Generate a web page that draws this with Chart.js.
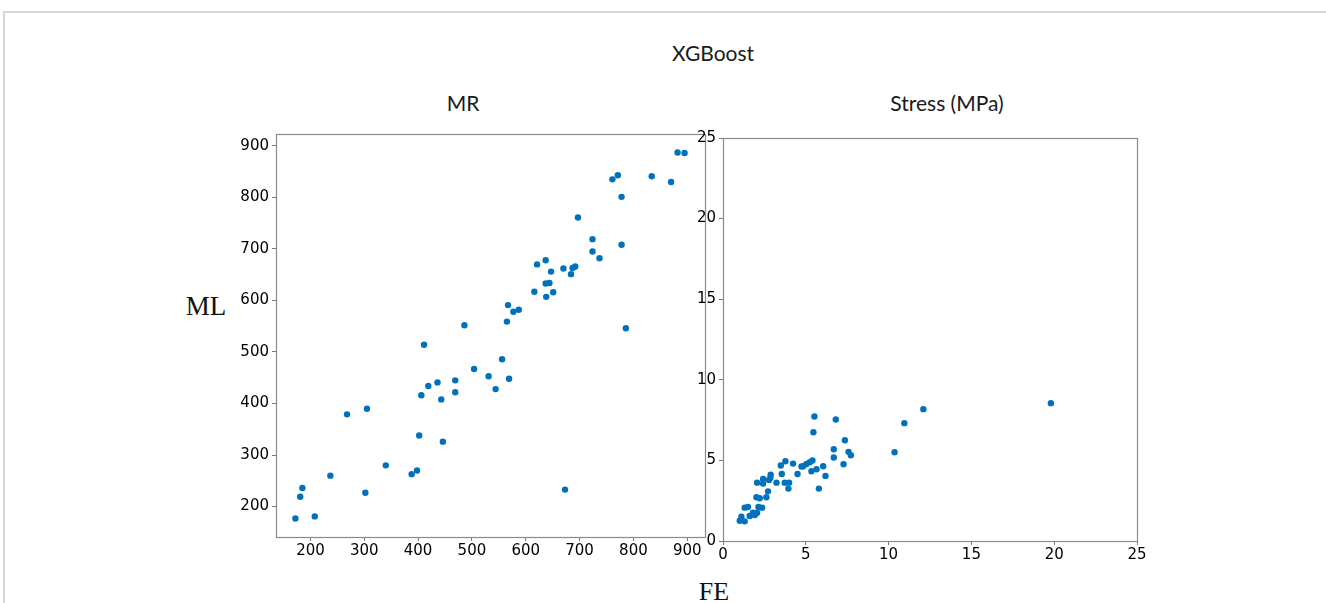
<!DOCTYPE html>
<html>
<head>
<meta charset="utf-8">
<script src="https://cdn.jsdelivr.net/npm/chart.js@4/dist/chart.umd.min.js"></script>
<style>
  html, body { margin: 0; padding: 0; background: #fff; }
  body { width: 1326px; height: 603px; position: relative; overflow: hidden; }
  .box { position: absolute; }
  .txt { position: absolute; white-space: nowrap; transform: translate(-50%, -50%); color: #1a1a1a; }
  .sans { font-family: Lato, "Open Sans", sans-serif; }
  .serif { font-family: "Liberation Serif", "DejaVu Serif", serif; color: #111; }
  #frameTop { position: absolute; left: 4px; top: 11px; width: 1322px; height: 2px; background: #d6d6d6; }
  #frameLeft { position: absolute; left: 3px; top: 11px; width: 2px; height: 592px; background: #d6d6d6; }
</style>
</head>
<body>
<div id="frameTop"></div>
<div id="frameLeft"></div>

<div class="txt sans" style="left:713px; top:52px; font-size:21px;">XGBoost</div>
<div class="txt sans" style="left:463px; top:102px; font-size:21px;">MR</div>
<div class="txt sans" style="left:947px; top:102px; font-size:21px;">Stress (MPa)</div>
<div class="txt serif" style="left:206px; top:306px; font-size:27px;">ML</div>
<div class="txt serif" style="left:714px; top:592px; font-size:26px;">FE</div>

<div class="box" style="left:216px; top:114px; width:509px; height:453px;"><canvas id="c1"></canvas></div>
<div class="box" style="left:663px; top:118px; width:494px; height:453px;"><canvas id="c2"></canvas></div>

<script>
// ---- Data ----
const mrFE = [882, 895, 761, 771, 834, 870, 778, 697, 724, 778, 724, 737, 621, 637, 647, 670, 684, 687, 692, 637,
              644, 616, 638, 651, 567, 577, 587, 565, 486, 786, 411, 556, 504, 531, 569, 544, 469, 469, 436, 419,
              406, 443, 268, 305, 402, 446, 340, 388, 398, 237, 185, 181, 302, 673, 172, 208];
const mrML = [887, 886, 835, 843, 841, 830, 801, 761, 719, 708, 695, 682, 670, 678, 656, 662, 651, 663, 666, 633,
              634, 617, 607, 616, 591, 578, 582, 559, 552, 546, 514, 486, 467, 453, 448, 428, 445, 422, 441, 434,
              416, 408, 379, 390, 338, 326, 280, 263, 270, 260, 236, 219, 227, 233, 177, 181];

const stressFE = [19.8, 12.1, 10.95, 10.36, 5.52, 5.46, 6.81, 7.36, 6.69, 6.69, 7.28, 7.58, 7.72, 5.65, 6.05, 6.19,
                  5.79, 5.34, 5.40, 5.24, 5.04, 4.84, 4.74, 4.23, 4.50, 3.77, 3.49, 3.55, 3.73, 3.99, 3.95, 3.23,
                  2.88, 2.86, 2.78, 2.42, 2.42, 2.06, 2.72, 2.62, 2.22, 2.02, 2.36, 2.14, 2.06, 1.92, 1.81, 1.61,
                  1.51, 1.31, 1.31, 1.11, 1.01];
const stressML = [8.55, 8.18, 7.31, 5.51, 7.72, 6.75, 7.54, 6.25, 5.69, 5.18, 4.76, 5.53, 5.32, 4.45, 4.64, 4.04,
                  3.25, 4.33, 4.99, 4.89, 4.78, 4.64, 4.62, 4.80, 4.16, 4.95, 4.68, 4.16, 3.62, 3.62, 3.25, 3.62,
                  4.12, 3.93, 3.79, 3.85, 3.56, 3.62, 3.08, 2.71, 2.65, 2.71, 2.07, 2.11, 1.76, 1.61, 1.76, 1.55,
                  2.11, 2.07, 1.22, 1.51, 1.26];

const mrXTicks = [200, 300, 400, 500, 600, 700, 800, 900];
const mrYTicks = [200, 300, 400, 500, 600, 700, 800, 900];
const stressTicks = [0, 5, 10, 15, 20, 25];

// ---- Chart helpers ----
const DOT = 'rgb(0,114,189)';
const AXIS = '#8a8a8a';

const framePlugin = {
  id: 'frame',
  afterDraw(chart) {
    const a = chart.chartArea, ctx = chart.ctx;
    ctx.save();
    ctx.strokeStyle = AXIS;
    ctx.lineWidth = 1.2;
    ctx.strokeRect(Math.round(a.left) + 0.5, Math.round(a.top) + 0.5,
                   Math.round(a.right - a.left), Math.round(a.bottom - a.top));
    ctx.restore();
  }
};

function axis(min, max, ticks, isY) {
  return {
    type: 'linear',
    min: min, max: max,
    afterBuildTicks: s => { s.ticks = ticks.map(v => ({ value: v })); },
    afterFit: s => { if (isY) s.width = 60; else s.height = 30; },
    grid: { display: true, drawOnChartArea: false, drawTicks: true, tickLength: 4, color: '#777', lineWidth: 1 },
    border: { display: false },
    ticks: {
      font: { family: "'DejaVu Sans'", size: 15 },
      color: '#000',
      padding: isY ? 3 : 1,
      maxRotation: 0,
      autoSkip: false
    }
  };
}

function makeChart(id, xs, ys, xr, yr, xt, yt) {
  const pts = xs.map((x, i) => ({ x: x, y: ys[i] }));
  return new Chart(document.getElementById(id), {
    type: 'scatter',
    data: { datasets: [{ data: pts, backgroundColor: DOT, borderWidth: 0, pointRadius: 3.2, pointHoverRadius: 3.2 }] },
    options: {
      responsive: true,
      maintainAspectRatio: false,
      animation: false,
      events: [],
      layout: { padding: { top: 20, right: 20, left: 0, bottom: 0 } },
      plugins: { legend: { display: false }, tooltip: { enabled: false }, title: { display: false } },
      scales: {
        x: axis(xr[0], xr[1], xt, false),
        y: axis(yr[0], yr[1], yt, true)
      }
    },
    plugins: [framePlugin]
  });
}

makeChart('c1', mrFE, mrML, [136, 933], [141, 923], mrXTicks, mrYTicks);
makeChart('c2', stressFE, stressML, [0, 25], [0, 25], stressTicks, stressTicks);
</script>
</body>
</html>
